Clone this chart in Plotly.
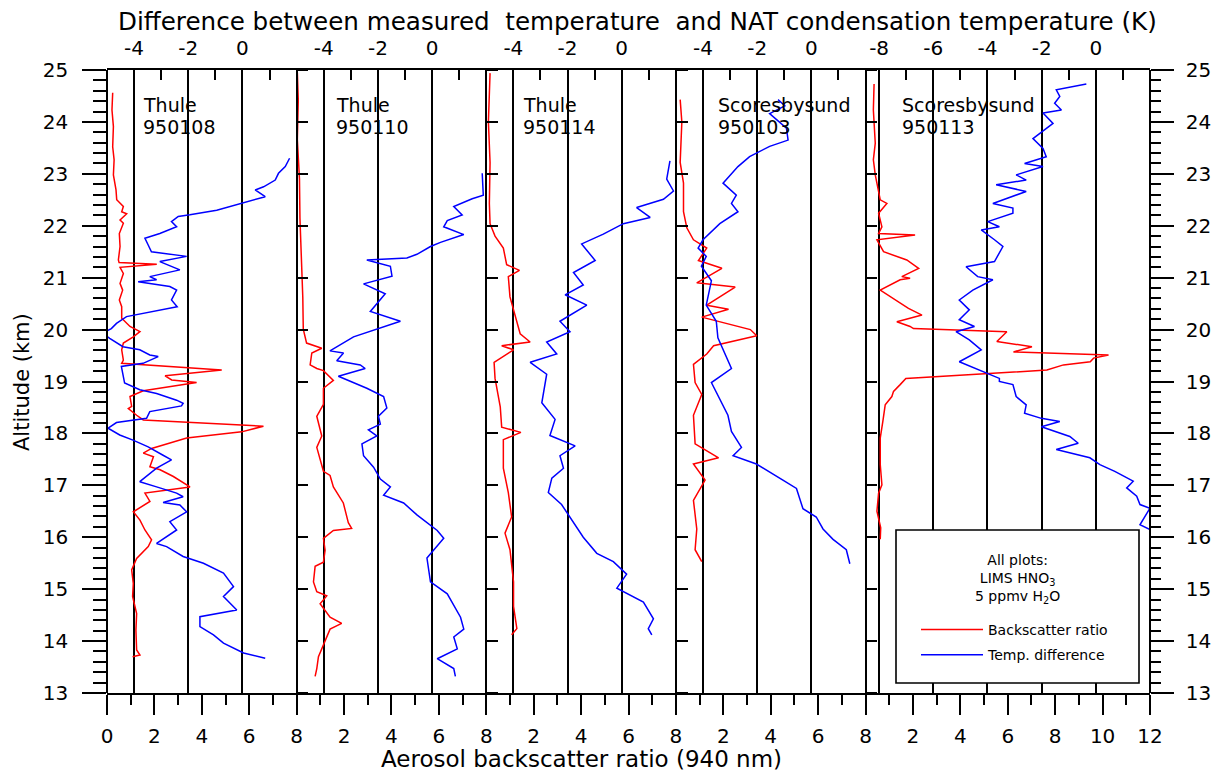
import plotly.graph_objects as go

# ---------------- data ----------------
panel_names = ["Thule", "Thule", "Thule", "Scoresbysund", "Scoresbysund"]
panel_dates = ["950108", "950110", "950114", "950103", "950113"]
bsr_max = [8, 8, 8, 8, 12]
dT_min = [-5, -5, -5, -5, -8.5]
dT_max = [2, 2, 2, 2, 2]
bottom_ticks = [[0, 2, 4, 6, 8], [2, 4, 6, 8], [2, 4, 6, 8], [2, 4, 6, 8], [2, 4, 6, 8, 10, 12]]
top_ticks = [[-4, -2, 0], [-4, -2, 0], [-4, -2, 0], [-4, -2, 0], [-8, -6, -4, -2, 0]]
alt_range = [13, 25]

# Thule 950108
p1_bsr_alt = [24.56, 24.23, 23.91, 23.52, 23.27, 22.98, 22.69, 22.50, 22.37, 22.27, 22.23, 22.11, 22.05, 21.85, 21.60,
              21.34, 21.29, 21.26, 21.20, 21.08, 20.89, 20.76, 20.57, 20.44, 20.22, 20.06, 19.96, 19.86, 19.74, 19.61,
              19.41, 19.35, 19.22, 19.11, 19.03, 18.98, 18.82, 18.71, 18.52, 18.48, 18.35, 18.26, 18.14, 18.03, 17.91,
              17.71, 17.62, 17.55, 17.36, 17.30, 17.17, 16.97, 16.85, 16.69, 16.49, 16.33, 16.14, 15.95, 15.82, 15.59,
              15.37, 15.11, 14.86, 14.53, 14.21, 13.83, 13.73, 13.70]
p1_bsr = [0.24, 0.21, 0.27, 0.24, 0.30, 0.27, 0.38, 0.41, 0.69, 0.62, 0.83, 0.55, 0.69, 0.52, 0.55,
          0.48, 0.51, 2.10, 0.55, 0.69, 0.55, 0.66, 0.52, 0.62, 0.62, 0.97, 1.39, 1.11, 0.69, 0.62,
          0.69, 0.62, 4.84, 2.45, 2.73, 3.78, 1.53, 0.97, 1.04, 0.90, 1.25, 1.53, 6.60, 5.68, 3.36,
          1.88, 1.53, 1.96, 1.81, 2.24, 2.80, 3.50, 1.60, 1.81, 1.11, 1.39, 1.60, 1.88, 1.74, 1.25,
          1.04, 1.11, 1.08, 1.25, 1.22, 1.25, 1.39, 1.08]
p1_dT_alt = [23.30, 23.14, 23.01, 22.88, 22.75, 22.69, 22.56, 22.46, 22.40, 22.30, 22.21, 22.18, 22.08, 21.98, 21.85,
             21.76, 21.63, 21.50, 21.41, 21.31, 21.15, 21.02, 20.96, 20.92, 20.83, 20.76, 20.57, 20.44, 20.25, 20.12,
             20.02, 19.93, 19.83, 19.67, 19.61, 19.51, 19.48, 19.35, 19.29, 19.09, 18.97, 18.84, 18.77, 18.64, 18.58,
             18.53, 18.42, 18.29, 18.21, 18.10, 17.97, 17.87, 17.74, 17.58, 17.49, 17.33, 17.07, 16.97, 16.85, 16.78,
             16.67, 16.62, 16.49, 16.30, 16.14, 15.88, 15.82, 15.63, 15.50, 15.31, 15.05, 14.86, 14.66, 14.60, 14.47,
             14.28, 14.12, 13.96, 13.77, 13.67]
p1_dT = [1.74, 1.58, 1.33, 1.21, 0.78, 0.47, 0.84, 0.16, -0.21, -0.95, -1.94, -2.37, -2.62, -2.43, -3.05,
         -3.60, -3.48, -3.36, -2.06, -3.05, -2.31, -3.42, -3.17, -3.85, -2.68, -2.43, -2.62, -2.41, -4.28, -4.65,
         -4.84, -5.15, -4.90, -4.41, -3.79, -3.42, -3.11, -3.67, -4.47, -4.41, -4.35, -3.79, -3.17, -2.43, -2.19,
         -2.25, -3.42, -3.54, -4.65, -4.96, -4.53, -4.04, -3.48, -2.93, -2.62, -3.17, -3.79, -3.17, -2.43, -2.19,
         -2.93, -2.31, -2.06, -2.68, -2.43, -3.17, -2.80, -2.19, -1.44, -0.70, -0.33, -0.70, -0.33, -0.21, -1.57,
         -1.57, -1.07, -0.70, 0.04, 0.84]

# Thule 950110
p2_bsr_alt = [24.95, 24.42, 23.66, 22.90, 22.14, 21.38, 20.62, 20.01, 19.74, 19.64, 19.55, 19.32, 19.25, 19.21, 19.02,
              18.87, 18.56, 18.33, 17.95, 17.73, 17.27, 17.19, 16.97, 16.66, 16.28, 16.17, 16.13, 15.98, 15.75, 15.52,
              15.44, 15.14, 14.95, 14.87, 14.72, 14.46, 14.34, 14.23, 14.08, 13.92, 13.70, 13.47, 13.32]
p2_bsr = [0.03, 0.07, 0.03, 0.12, 0.14, 0.21, 0.26, 0.28, 0.42, 1.06, 0.64, 0.57, 0.85, 1.13, 1.55,
          1.13, 1.13, 0.85, 1.06, 0.85, 1.13, 1.41, 1.55, 1.97, 2.18, 2.32, 1.55, 1.13, 1.20, 1.13,
          0.78, 0.71, 0.85, 1.27, 0.99, 1.41, 1.90, 1.41, 1.27, 1.13, 0.92, 0.85, 0.78]
p2_dT_alt = [23.01, 22.59, 22.52, 22.37, 22.21, 22.10, 21.98, 21.83, 21.68, 21.60, 21.45, 21.38, 21.34, 21.22, 21.03,
             20.88, 20.69, 20.35, 20.16, 20.01, 19.86, 19.59, 19.55, 19.40, 19.32, 19.25, 19.10, 18.87, 18.71, 18.49,
             18.33, 18.18, 18.07, 17.95, 17.80, 17.57, 17.35, 17.12, 16.97, 16.81, 16.66, 16.43, 16.13, 15.98, 15.60,
             15.14, 14.91, 14.46, 14.23, 14.08, 13.85, 13.66, 13.47, 13.32]
p2_dT = [1.85, 1.89, 1.48, 0.80, 1.11, 0.56, 0.43, 1.17, 0.31, -0.06, -0.56, -0.93, -2.41, -1.54, -1.48,
         -2.53, -1.73, -2.28, -1.17, -2.04, -2.90, -3.77, -3.27, -3.52, -2.65, -2.47, -3.46, -2.41, -1.79, -1.67,
         -1.98, -1.91, -2.35, -2.04, -2.59, -2.53, -2.16, -1.91, -1.54, -1.79, -1.05, -0.56, 0.19, 0.43, -0.19,
         -0.06, 0.56, 1.05, 1.17, 0.80, 0.93, 0.19, 0.80, 0.86]

# Thule 950114
p3_bsr_alt = [24.94, 24.00, 23.22, 22.43, 22.04, 21.80, 21.57, 21.25, 21.14, 21.02, 20.63, 20.16, 19.92, 19.76, 19.69,
              19.61, 19.37, 19.06, 18.51, 18.12, 18.02, 17.88, 17.33, 16.86, 16.39, 16.08, 15.76, 15.14, 14.67, 14.24,
              14.12]
p3_bsr = [0.16, 0.09, 0.16, 0.13, 0.16, 0.37, 0.72, 0.86, 1.40, 0.93, 1.00, 1.29, 1.43, 1.85, 0.65,
          1.15, 0.33, 0.37, 0.59, 0.65, 1.46, 0.72, 0.72, 0.93, 1.07, 0.79, 1.00, 1.15, 1.15, 1.29,
          1.07]
p3_dT_alt = [23.25, 22.90, 22.67, 22.51, 22.35, 22.16, 22.04, 21.84, 21.65, 21.33, 21.10, 20.86, 20.67, 20.47, 20.16,
             19.96, 19.76, 19.53, 19.37, 19.14, 18.59, 18.27, 17.96, 17.76, 17.57, 17.33, 17.14, 16.86, 16.63, 16.39,
             16.00, 15.69, 15.53, 15.29, 15.02, 14.75, 14.43, 14.24, 14.12]
p3_dT = [1.78, 1.66, 1.91, 1.54, 0.55, 1.05, 0.06, -0.68, -1.48, -0.98, -1.78, -1.42, -2.09, -1.29, -2.28,
         -1.91, -2.77, -2.40, -3.38, -2.77, -2.95, -2.46, -2.65, -1.72, -2.28, -2.15, -2.58, -2.71, -2.22, -1.91,
         -1.42, -0.92, -0.31, 0.18, -0.18, 0.80, 1.17, 0.98, 1.11]

# Scoresbysund 950103
p4_bsr_alt = [24.43, 24.00, 23.22, 22.82, 22.27, 21.96, 21.73, 21.57, 21.33, 21.18, 20.90, 20.82, 20.47, 20.39, 20.24,
              20.00, 19.88, 19.69, 19.53, 19.33, 18.98, 18.75, 18.35, 17.80, 17.53, 17.41, 17.10, 16.71, 16.16, 15.76,
              15.53]
p4_bsr = [0.18, 0.25, 0.18, 0.32, 0.32, 0.46, 0.74, 1.30, 0.95, 1.94, 0.88, 2.50, 1.30, 2.22, 1.09,
          3.14, 3.41, 1.59, 1.30, 0.74, 0.81, 1.09, 0.74, 0.81, 1.80, 0.74, 1.23, 0.74, 0.88, 0.81,
          1.09]
p4_dT_alt = [24.43, 24.31, 24.16, 23.88, 23.65, 23.53, 23.33, 23.14, 22.82, 22.59, 22.43, 22.27, 22.04, 21.73, 21.57,
             21.41, 21.22, 20.94, 20.47, 20.16, 19.84, 19.25, 18.98, 18.67, 18.35, 18.04, 17.73, 17.57, 17.41, 17.10,
             16.94, 16.55, 16.39, 16.16, 15.96, 15.76, 15.49]
p4_dT = [-1.23, -0.98, -1.54, -0.92, -0.86, -1.54, -2.28, -2.71, -3.26, -2.77, -2.95, -2.71, -3.38, -4.00, -4.18,
         -3.88, -4.06, -3.69, -3.88, -3.51, -3.45, -2.95, -3.69, -3.38, -3.08, -2.95, -2.58, -2.89, -2.03, -1.05,
         -0.55, -0.31, 0.18, 0.43, 0.80, 1.29, 1.42]

# Scoresbysund 950113
p5_bsr_alt = [24.73, 24.23, 23.59, 23.27, 22.98, 22.50, 22.43, 22.24, 21.98, 21.85, 21.82, 21.73, 21.50, 21.41, 21.34,
              21.18, 21.02, 20.99, 20.96, 20.76, 20.60, 20.41, 20.28, 20.15, 20.06, 20.02, 19.96, 19.77, 19.67, 19.57,
              19.51, 19.45, 19.38, 19.32, 19.22, 19.06, 18.94, 18.81, 18.71, 18.55, 18.23, 17.91, 17.40, 17.01, 16.85,
              16.50, 16.18, 15.96]
p5_bsr = [0.36, 0.33, 0.41, 0.33, 0.41, 0.62, 0.90, 0.55, 0.69, 0.55, 2.09, 0.48, 0.76, 1.32, 1.74,
          2.24, 1.53, 1.88, 1.46, 0.62, 1.18, 1.81, 2.38, 1.32, 1.88, 2.02, 5.96, 5.54, 7.02, 6.24,
          10.25, 9.62, 9.48, 8.35, 7.65, 1.70, 1.46, 1.18, 1.11, 0.83, 0.73, 0.62, 0.62, 0.69, 0.55,
          0.48, 0.64, 0.62]
p5_dT_alt = [24.73, 24.62, 24.49, 24.36, 24.23, 24.17, 23.97, 23.81, 23.68, 23.49, 23.33, 23.20, 23.14, 22.98, 22.88,
             22.79, 22.66, 22.43, 22.34, 22.24, 22.08, 21.98, 21.92, 21.73, 21.60, 21.31, 21.21, 21.02, 20.96, 20.76,
             20.57, 20.38, 20.19, 20.06, 19.96, 19.80, 19.61, 19.38, 19.16, 19.06, 19.00, 18.94, 18.71, 18.55, 18.39,
             18.29, 18.23, 18.13, 17.94, 17.81, 17.69, 17.53, 17.40, 17.27, 17.08, 16.95, 16.79, 16.63, 16.56, 16.24,
             16.15]
p5_dT = [-0.35, -1.46, -1.33, -1.52, -1.27, -1.95, -1.58, -2.01, -2.32, -1.95, -1.83, -2.63, -1.95, -2.94, -2.57,
         -3.68, -2.57, -3.80, -3.06, -3.06, -3.99, -3.56, -4.23, -3.74, -3.43, -3.74, -4.79, -4.36, -3.80, -4.54,
         -5.04, -4.67, -5.04, -4.48, -5.16, -4.67, -4.23, -5.04, -4.05, -3.56, -3.56, -3.06, -2.94, -2.57, -2.63,
         -2.01, -1.33, -2.01, -0.96, -0.65, -1.46, -0.22, 0.15, 0.70, 1.38, 1.14, 1.51, 1.63, 2.00, 1.63,
         2.00]

bsr_alt = [p1_bsr_alt, p2_bsr_alt, p3_bsr_alt, p4_bsr_alt, p5_bsr_alt]
bsr_val = [p1_bsr, p2_bsr, p3_bsr, p4_bsr, p5_bsr]
dT_alt = [p1_dT_alt, p2_dT_alt, p3_dT_alt, p4_dT_alt, p5_dT_alt]
dT_val = [p1_dT, p2_dT, p3_dT, p4_dT, p5_dT]

# ---------------- layout geometry ----------------
OFF = 8  # page body margin of the html page
W, H = 1221 - OFF, 774 - OFF
PL, PT, PR, PB = 107, 70, 1150, 693   # plot area in window pixels
PW = PR - PL
PH = PB - PT
ML, MT = PL - OFF, PT - OFF
MR = W - ML - PW
MB = H - MT - PH
total = sum(bsr_max)
edges = [0]
for m in bsr_max:
    edges.append(edges[-1] + m)
dom = [(edges[i] / total, edges[i + 1] / total) for i in range(5)]

FONT = "DejaVu Sans, Verdana, sans-serif"
RED = "#ff0000"
BLUE = "#0000ff"
LW = 1.5
AXW = 1.6

fig = go.Figure()

for i in range(5):
    xb = "x" if i == 0 else f"x{i + 1}"
    xt = f"x{i + 6}"
    fig.add_trace(go.Scatter(
        x=bsr_val[i], y=bsr_alt[i], xaxis=xb, yaxis="y", mode="lines",
        line=dict(color=RED, width=LW), name="Backscatter ratio",
        legendgroup="bsr", showlegend=(i == 0), hoverinfo="skip"))
    fig.add_trace(go.Scatter(
        x=dT_val[i], y=dT_alt[i], xaxis=xt, yaxis=("y2" if i == 4 else "y"), mode="lines",
        line=dict(color=BLUE, width=LW), name="Temp. difference",
        legendgroup="dT", showlegend=(i == 0), hoverinfo="skip"))

# empty traces that activate the panel-separator axes
for i in range(1, 5):
    fig.add_trace(go.Scatter(x=[None], y=[None], xaxis=f"x{i + 1}", yaxis=f"y{i + 2}",
                             mode="lines", showlegend=False, hoverinfo="skip"))

layout = dict(
    width=W, height=H,
    margin=dict(l=ML, r=MR, t=MT, b=MB, autoexpand=False),
    paper_bgcolor="white", plot_bgcolor="white",
    font=dict(family=FONT, size=20, color="black"),
    showlegend=True,
)

tickfont = dict(family=FONT, size=20, color="black")

for i in range(5):
    kb = "xaxis" if i == 0 else f"xaxis{i + 1}"
    kt = f"xaxis{i + 6}"
    layout[kb] = dict(
        domain=list(dom[i]), anchor="y", side="bottom",
        range=[0, bsr_max[i]], tickmode="array", tickvals=bottom_ticks[i],
        ticktext=[str(v) for v in bottom_ticks[i]],
        ticks="outside", ticklen=20, tickwidth=AXW, tickcolor="black",
        minor=dict(dtick=1, tick0=0, ticks="outside", ticklen=10, tickwidth=AXW, tickcolor="black", showgrid=False),
        showline=True, linewidth=AXW, linecolor="black",
        showgrid=False, zeroline=False, tickfont=tickfont, ticklabelstandoff=4,
    )
    layout[kt] = dict(
        domain=list(dom[i]), anchor="y", side="top",
        overlaying=("x" if i == 0 else f"x{i + 1}"),
        range=[dT_min[i], dT_max[i]], tickmode="array", tickvals=top_ticks[i],
        ticktext=[str(v) for v in top_ticks[i]],
        ticks="inside", ticklen=10, tickwidth=AXW, tickcolor="black",
        minor=dict(dtick=1, tick0=0, ticks="inside", ticklen=10, tickwidth=AXW, tickcolor="black", showgrid=False),
        showline=True, linewidth=AXW, linecolor="black",
        showgrid=True, gridcolor="black", gridwidth=AXW,
        zeroline=False, tickfont=tickfont, ticklabelstandoff=5,
    )

layout["yaxis"] = dict(
    range=alt_range, domain=[0, 1], anchor="free", position=0, side="left",
    tickmode="linear", tick0=13, dtick=1,
    ticks="outside", ticklen=24, tickwidth=AXW, tickcolor="black",
    minor=dict(dtick=0.2, ticks="outside", ticklen=13, tickwidth=AXW, tickcolor="black", showgrid=False),
    showline=True, linewidth=AXW, linecolor="black",
    showgrid=False, zeroline=False, tickfont=tickfont, ticklabelstandoff=10,
)
layout["yaxis2"] = dict(
    range=alt_range, overlaying="y", anchor="free", position=1, side="right",
    tickmode="linear", tick0=13, dtick=1,
    ticks="outside", ticklen=23, tickwidth=AXW, tickcolor="black",
    minor=dict(dtick=0.2, ticks="outside", ticklen=10, tickwidth=AXW, tickcolor="black", showgrid=False),
    showline=True, linewidth=AXW, linecolor="black",
    showgrid=False, zeroline=False, tickfont=tickfont, ticklabelstandoff=8,
)
for i in range(1, 5):
    layout[f"yaxis{i + 2}"] = dict(
        range=alt_range, overlaying="y", anchor="free", position=dom[i][0], side="right",
        tickmode="linear", tick0=13, dtick=1,
        ticks="outside", ticklen=11, tickwidth=AXW, tickcolor="black",
        showticklabels=False, showline=True, linewidth=AXW, linecolor="black",
        showgrid=False, zeroline=False,
    )


def px_x(px):
    return (px - PL) / PW


def px_y(py):
    return (PB - py) / PH


annotations = [
    dict(text="Difference between measured  temperature  and NAT condensation temperature (K)",
         xref="paper", yref="paper", x=px_x(637), y=px_y(21), xanchor="center", yanchor="middle",
         showarrow=False, font=dict(family=FONT, size=24.6, color="black")),
    dict(text="Aerosol backscatter ratio (940 nm)",
         xref="paper", yref="paper", x=px_x(581), y=px_y(759), xanchor="center", yanchor="middle",
         showarrow=False, font=dict(family=FONT, size=23, color="black")),
    dict(text="Altitude (km)", textangle=-90,
         xref="paper", yref="paper", x=px_x(22), y=px_y(382), xanchor="center", yanchor="middle",
         showarrow=False, font=dict(family=FONT, size=21, color="black")),
    dict(text="All plots:<br>LIMS HNO<sub>3</sub><br>5 ppmv H<sub>2</sub>O",
         xref="paper", yref="paper", x=px_x(1017), y=px_y(579), xanchor="center", yanchor="middle",
         showarrow=False, font=dict(family=FONT, size=14, color="black")),
]
label_offsets = [34, 37, 35, 40, 34]
for i in range(5):
    left_px = PL + dom[i][0] * PW + label_offsets[i]
    annotations.append(dict(
        text=panel_names[i], align="left",
        xref="paper", yref="paper", x=px_x(left_px), y=px_y(105), xanchor="left", yanchor="middle",
        showarrow=False, font=dict(family=FONT, size=19, color="black")))
    annotations.append(dict(
        text=panel_dates[i], align="left",
        xref="paper", yref="paper", x=px_x(left_px), y=px_y(127), xanchor="left", yanchor="middle",
        showarrow=False, font=dict(family=FONT, size=19, color="black")))
layout["annotations"] = annotations

layout["shapes"] = [dict(
    type="rect", xref="paper", yref="paper", layer="above",
    x0=px_x(896), x1=px_x(1139), y0=px_y(683), y1=px_y(530),
    line=dict(color="black", width=AXW), fillcolor="white")]

layout["legend"] = dict(
    x=px_x(916), y=px_y(614), xanchor="left", yanchor="top",
    bgcolor="rgba(0,0,0,0)", borderwidth=0, itemwidth=62,
    font=dict(family=FONT, size=14, color="black"), tracegroupgap=4,
    traceorder="grouped")

fig.update_layout(**layout)
fig.write_html("out.html")
